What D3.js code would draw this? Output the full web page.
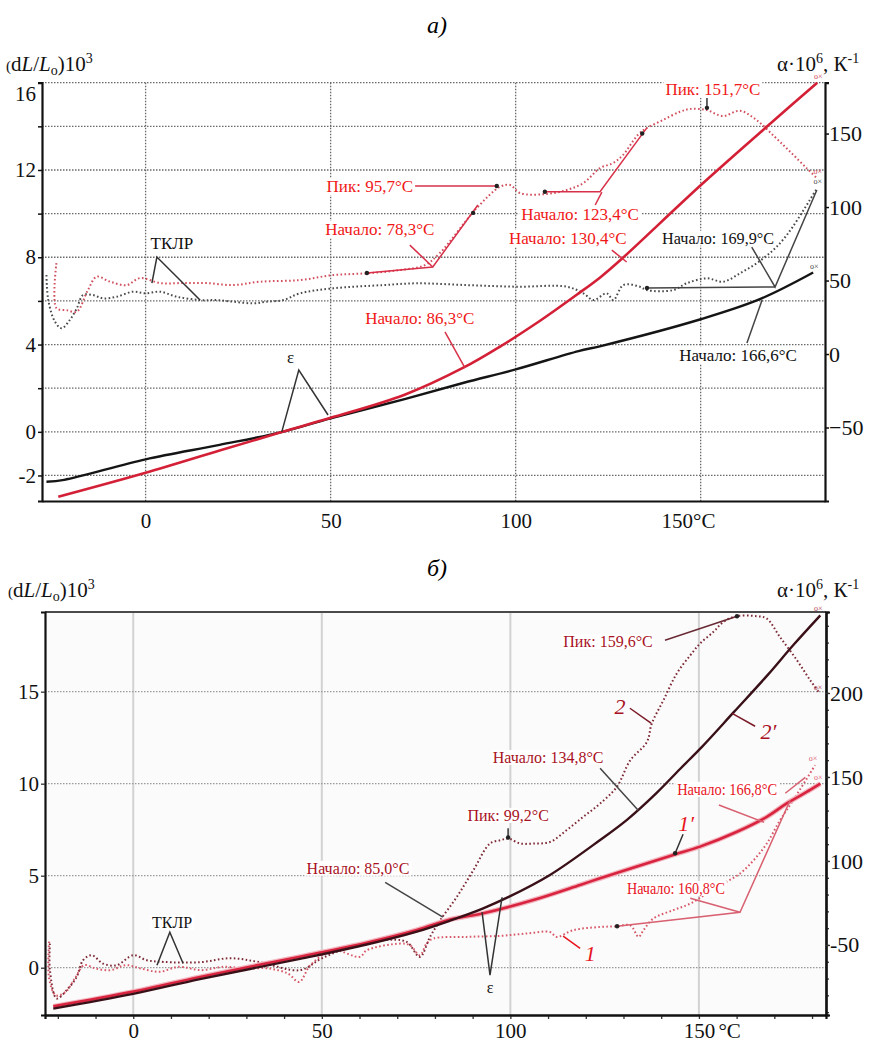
<!DOCTYPE html>
<html>
<head>
<meta charset="utf-8">
<script src="https://cdn.jsdelivr.net/npm/d3@7"></script>
<style>
  body { margin: 0; background: #fff; }
  svg { display: block; }
  text { font-family: "Liberation Serif", "Times New Roman", serif; }
</style>
</head>
<body>
<svg id="fig" width="871" height="1045"></svg>
<script>
// ---------- panel а) : temperature (°C) vs dL/L·10^3 (left) and α·10^6 (right)
const aStrainRed = [[-23.6,-2.98],[0,-1.88],[20,-0.86],[37,0],[50,0.64],[70,1.7],[86,2.95],[96,3.93],[106,5.02],[116.5,6.28],[123,7.1],[129,7.98],[150,11.3],[170,14.3],[181.5,16.0]];
const aStrainBlack = [[-26.8,-2.29],[-22,-2.2],[0,-1.26],[20,-0.6],[37,0],[50,0.62],[70,1.5],[86,2.25],[100,2.86],[117,3.7],[123,3.93],[150,5.16],[166,6.08],[180.4,7.3]];
const aAlphaRed = [[-24.1,61.9],[-24.1,31.3],[-21.4,29.9],[-18.6,28.8],[-15.6,43.5],[-13.2,52.6],[-9.6,49.2],[-5.1,46.9],[-1.5,51.7],[3.9,48.3],[10.1,48.3],[16.5,48.3],[23.6,46.9],[30.9,49.2],[41.7,50.3],[50.6,53.7],[59.7,54.9],[68.7,57.1],[75.5,60.5],[79.5,68.7],[89.5,99.3],[95.8,113.8],[98.5,115],[101.2,109.5],[107.9,108.8],[113.8,111.6],[118.3,116.3],[122.8,126.5],[126.3,129.9],[129,135.4],[133,149],[135.4,153.7],[139.8,159.2],[144.4,164.8],[147.1,166.7],[151.6,166],[156,161.9],[160.6,165.5],[165.1,159.2],[170,147.8],[174.2,137.6],[178.6,126.5],[181.4,119.7]];
const aAlphaBlack = [[-26.8,53.7],[-26.3,36.7],[-24.5,22],[-22.7,17.5],[-20.5,23.1],[-18.6,31.1],[-16.9,40.1],[-14.2,40.1],[-11.5,37.9],[-7.8,39],[-3.4,42.4],[0,41.3],[3.9,42.4],[8.4,39],[14.7,36.7],[19.2,36.7],[23.7,35.6],[29.1,34.5],[32.7,35.6],[37.2,36.7],[41.7,41.3],[50.7,44.7],[64.2,46.9],[73.2,48.1],[86.8,46.9],[100.3,45.8],[113.8,45.8],[118.3,41.3],[121,36.7],[124.6,41.3],[126.4,36.7],[129.1,46.9],[133.6,45.8],[135.4,43.5],[142.6,43.5],[146.2,48.1],[151.6,51.5],[156.1,49.2],[160.6,54.9],[165.1,61.7],[169.6,70.7],[172.2,77.6],[174.9,86.6],[179.5,104.8],[181.4,112.7]];
const aGridStrain = [-2,0,2,4,6,8,10,12,14,16];
const aStrainTicks = [-2,0,4,8,12,16];
const aAlphaTicks = [-50,0,50,100,150];
const aTempTicks = [0,50,100,150];
const aTempLabels = ["0","50","100","150°C"];

// ---------- panel б)
const bStrain2p = [[-21.2,-2.22],[0,-1.42],[17.7,-0.62],[44.2,0.48],[61.9,1.26],[75.2,1.96],[84,2.56],[92.8,3.23],[99.7,3.86],[110.5,5.04],[123.8,6.94],[131,8.05],[138.8,9.5],[145,10.8],[150.8,12.0],[159.3,13.9],[168.2,15.9],[175.1,17.55],[182.2,19.15]];
const bStrain1p = [[-21.2,-2.1],[0,-1.3],[17.7,-0.5],[44.2,0.6],[61.9,1.36],[75.2,2.05],[84,2.62],[92.8,2.96],[106.1,3.68],[118.5,4.5],[123.8,4.86],[143.2,6.13],[150.3,6.58],[160.1,7.39],[168,8.2],[173.3,8.93],[179.5,9.66],[182.2,10.0]];
const bAlpha2 = [[-22.1,50.8],[-22.1,35],[-20.3,18.1],[-17.7,23],[-15,31],[-13.3,40.9],[-11,43.9],[-8,38.9],[-4.4,37.9],[0,43.9],[3.6,40.9],[8,39.9],[17.7,39.7],[25.7,42.1],[33.6,39.7],[44.2,35],[50,42],[57.5,48.8],[66.3,52.8],[72.5,51.8],[76,42.9],[78.7,54.8],[81.4,64.7],[85.8,78.6],[90.2,94.5],[94.6,110.4],[97.3,112.3],[99.5,113.3],[102.6,110.4],[106.1,110.4],[110.5,111.3],[114.9,118.3],[119.3,126.2],[123.8,134.2],[128.2,144],[131.8,159.9],[136.2,170.8],[137.5,181.8],[140.6,195.7],[144.1,211.5],[147.7,222.4],[150.3,229.4],[153.8,236.3],[156.5,242.3],[160,245.7],[165.4,245.7],[168,244.3],[171.5,233.3],[176,219.5],[179.5,207.6],[182.1,199.6]];
const bAlpha1 = [[-22.3,52],[-22.3,30],[-20.5,20],[-18,22],[-15.5,30],[-13,38],[-10,36],[-6,35],[-2,38],[2,36],[7,34],[12,37],[18,35],[24,37],[30,36],[36,36],[41,33],[44,28],[47,38],[53,46.8],[60.1,42.9],[61.9,46.8],[70.7,50.8],[73.4,49.8],[76,43.9],[77.8,50.8],[79.6,53.8],[88.4,54.8],[97.3,55.4],[104.3,56.8],[110.5,57.7],[112.3,54.8],[116.7,58.8],[123.8,60.7],[128.2,61.1],[131.8,61.7],[134,54.8],[135.3,58.8],[137.9,65.7],[143.2,70.7],[147.7,74.6],[152.1,80.6],[156.5,86.5],[160.9,92.5],[164.5,100.4],[168,110.4],[171.5,124.2],[175,136.1],[180.8,157]];
const bGridStrain = [0,5,10,15];
const bStrainTicks = [0,5,10,15];
const bAlphaTicks = [50,100,150,200];
const bAlphaLabels = ["-50","100","150","200"];
const bTempTicks = [0,50,100,150];
const bTempLabels = ["0","50","100","150"];

// annotations: label centre and leader polylines in (°C, α) units of each panel
const aNotes = [
  {t:"ТКЛР", at:[7.1,75.5], c:"#111", lc:"#333", lines:[[[1.7,48.3],[3.05,66],[14.7,36.7]]]},
  {t:"ε", at:[39.2,-2], c:"#111", lc:"#333", lines:[[[36.8,-53],[41.4,-10.9],[49.3,-41.5]]]},
  {t:"Начало: 78,3°C", at:[63.3,85], c:"#f01818", lc:"#d83048", lines:[[[71.4,74.1],[77.6,59.2]],[[59.8,55.1],[77.6,59.2],[89.8,101.4]]], dots:[[59.8,55.1],[88.5,96]]},
  {t:"Пик: 95,7°C", at:[60.6,114.3], c:"#f01818", lc:"#d83048", lines:[[[70.1,114.3],[94.9,114.3]]], dots:[[94.9,114.3]]},
  {t:"Начало: 123,4°C", at:[117.4,95.2], c:"#f01818", lc:"#d83048", lines:[[[107.9,110.4],[122.8,110.4],[135.4,153.7]],[[121.5,101.4],[123.3,110.2]]], dots:[[107.9,110.4],[134.2,150]]},
  {t:"Пик: 151,7°C", at:[153.3,180.3], c:"#f01818", lc:"#333", lines:[[[151.7,174.8],[151.7,166.7]]], dots:[[151.7,167.5]]},
  {t:"Начало: 130,4°C", at:[114.1,78.9], c:"#f01818", lc:"#d83048", lines:[[[126,70.7],[130,62.6]]]},
  {t:"Начало: 86,3°C", at:[74.1,24.5], c:"#f01818", lc:"#d83048", lines:[[[80.9,15],[86.3,-9.5]]]},
  {t:"Начало: 169,9°C", at:[154.7,78.9], c:"#111", lc:"#444", fs:16, tl:112, lines:[[[163.8,72.8],[170.1,45.6],[181.4,111.6]],[[135.5,44.9],[170.1,45.6]]], dots:[[135.5,44.9]]},
  {t:"Начало: 166,6°C", at:[160.1,-0.7], c:"#111", lc:"#444", lines:[[[162.5,7.5],[166.6,36.7]]]}
];
const bNotes = [
  {t:"ТКЛР", at:[10.3,63.5], c:"#111", lc:"#333", fs:16, lines:[[[6.3,37.9],[9.7,57.6],[13.2,39.1]]]},
  {t:"ε", at:[94.6,24.8], c:"#111", lc:"#333", fs:16, lines:[[[92.5,69.5],[94.6,32],[97.8,78.4]]]},
  {t:"Начало: 85,0°C", at:[59.6,95.7], c:"#a8121e", lc:"#444", fs:16, lines:[[[66.8,87.3],[82.1,66.5]]]},
  {t:"Пик: 99,2°C", at:[99.4,127.2], c:"#a8121e", lc:"#333", fs:16, lines:[[[99.4,119.5],[99.4,113.5]]], dots:[[99.4,114]]},
  {t:"Начало: 134,8°C", at:[110,161.7], c:"#a8121e", lc:"#444", fs:16, lines:[[[123.8,155.2],[133.9,130.2]]]},
  {t:"Пик: 159,6°C", at:[125.9,230.8], c:"#a8121e", lc:"#6a2a34", fs:16, lines:[[[141,231.4],[160.1,245.7]]], dots:[[160.1,245.7]]},
  {t:"2", at:[129.1,192.1], c:"#a8121e", lc:"#7a1a26", fs:22, it:true, lines:[[[131.7,190.9],[137.3,182]]]},
  {t:"2′", at:[168.4,177.2], c:"#a8121e", lc:"#7a1a26", fs:22, it:true, lines:[[[164.9,180.2],[158.8,187.9]]]},
  {t:"Начало: 166,8°C", at:[157.5,142.7], c:"#e8141e", lc:"#d86070", fs:16, tl:100, lines:[[[155.3,133.3],[167.3,123]],[[172.9,140.3],[178.2,149.8]]]},
  {t:"1′", at:[146.6,122.4], c:"#e8141e", lc:"#333", fs:22, it:true, lines:[[[145.8,115.9],[143.7,104.6]]], dots:[[143.7,104.6]]},
  {t:"Начало: 160,8°C", at:[143.9,83.7], c:"#e8141e", lc:"#d86070", fs:16, tl:98, lines:[[[147.7,77.8],[160.9,69.5]],[[128.3,61.1],[160.9,69.5],[174.2,136.1]]], dots:[[128.3,61.1]]},
  {t:"1", at:[121.2,45.1], c:"#e8141e", lc:"#e8141e", fs:22, it:true, lines:[[[118.5,48],[114,55.2]]]}
];

const svg = d3.select("#fig");

function addNotes(g, notes, x, y, big) {
  const line = d3.line().x(d => x(d[0])).y(d => y(d[1]));
  notes.forEach(n => {
    n.lines.forEach(l => g.append("path").attr("d", line(l))
      .attr("fill", "none").attr("stroke", n.lc).attr("stroke-width", 1.5));
    (n.dots || []).forEach(p => g.append("circle").attr("cx", x(p[0])).attr("cy", y(p[1]))
      .attr("r", 2.2).attr("fill", "#222"));
  });
  notes.forEach(n => {
    const t = g.append("text").attr("x", x(n.at[0])).attr("y", y(n.at[1])).attr("dy", "0.35em")
      .attr("text-anchor", "middle").attr("fill", n.c)
      .style("font-size", (n.fs || big) + "px")
      .style("font-style", n.it ? "italic" : "normal")
      .text(n.t);
    if (n.tl) t.attr("textLength", n.tl).attr("lengthAdjust", "spacingAndGlyphs");
    if (!n.it && n.t.length > 2) {
      const b = t.node().getBBox();
      g.insert("rect", () => t.node()).attr("x", b.x - 2).attr("y", b.y + 1).attr("width", b.width + 4)
        .attr("height", b.height - 2).attr("fill", "#fff");
    }
  });
}

function yTitle(x, y) {
  const t = svg.append("text").attr("x", x).attr("y", y).style("font-size", "21px").attr("fill", "#111");
  t.append("tspan").style("font-size", "15px").text("(");
  t.append("tspan").text("d");
  t.append("tspan").style("font-style", "italic").text("L");
  t.append("tspan").text("/");
  t.append("tspan").style("font-style", "italic").text("L");
  t.append("tspan").style("font-size", "14px").attr("dy", 4).text("o");
  t.append("tspan").attr("dy", -4).text(")10");
  t.append("tspan").style("font-size", "14px").attr("dy", -8).text("3");
}
function rTitle(x, y) {
  const t = svg.append("text").attr("x", x).attr("y", y).style("font-size", "21px").attr("fill", "#111");
  t.append("tspan").text("α·10");
  t.append("tspan").style("font-size", "14px").attr("dy", -8).text("6");
  t.append("tspan").attr("dy", 8).text(", К");
  t.append("tspan").style("font-size", "14px").attr("dy", -8).text("-1");
}

// ================= panel а)
{
  const L = 42, R = 825, T = 82.7, B = 501;
  const x = d3.scaleLinear().domain([-28, 183.6]).range([L, R]);
  const yL = d3.scaleLinear().domain([-3.17, 16]).range([B, T]);
  const yR = d3.scaleLinear().domain([-100, 184.6]).range([B, T]);
  const g = svg.append("g");

  svg.append("text").attr("x", 437).attr("y", 33).attr("text-anchor", "middle")
    .style("font-size", "24px").style("font-style", "italic").text("а)");
  yTitle(6, 71);
  rTitle(777, 71);

  g.selectAll(".gh").data(aGridStrain).join("line")
    .attr("x1", L).attr("x2", R).attr("y1", d => yL(d)).attr("y2", d => yL(d))
    .attr("stroke", "#6a6a6a").attr("stroke-width", 1.3).attr("stroke-dasharray", "1.5,1.5");
  g.selectAll(".gv").data(aTempTicks).join("line")
    .attr("x1", d => x(d)).attr("x2", d => x(d)).attr("y1", T).attr("y2", B)
    .attr("stroke", "#6a6a6a").attr("stroke-width", 1.3).attr("stroke-dasharray", "1.5,1.5");

  // axes
  const axL = g.append("g").attr("transform", `translate(${L},0)`)
    .call(d3.axisLeft(yL).tickValues(aGridStrain).tickSize(4).tickFormat(d => aStrainTicks.includes(d) ? d : ""));
  const axR = g.append("g").attr("transform", `translate(${R},0)`)
    .call(d3.axisRight(yR).tickValues(aAlphaTicks).tickSize(4));
  const axB = g.append("g").attr("transform", `translate(0,${B})`)
    .call(d3.axisBottom(x).tickValues(aTempTicks).tickSize(0).tickFormat((d, i) => aTempLabels[i]));
  [axL, axR, axB].forEach(a => {
    a.select(".domain").attr("stroke", "#111").attr("stroke-width", 2.2);
    a.selectAll(".tick line").attr("stroke", "#111").attr("stroke-width", 1.5);
    a.selectAll("text").style("font-size", "21px").attr("fill", "#111")
      .style("font-family", '"Liberation Serif", serif');
  });
  axL.selectAll("text").attr("x", -6).filter(d => d === 16).attr("dy", "0.85em");
  axR.selectAll("text").attr("x", 4).style("font-size", "22px");
  axB.selectAll("text").attr("y", 12).filter(d => d === 150).attr("dx", "-0.6em");

  const lineL = d3.line().x(d => x(d[0])).y(d => yL(d[1])).curve(d3.curveCatmullRom.alpha(0.5));
  const lineR = d3.line().x(d => x(d[0])).y(d => yR(d[1])).curve(d3.curveCatmullRom.alpha(0.5));

  g.append("path").attr("d", lineR(aAlphaBlack)).attr("fill", "none")
    .attr("stroke", "#4a4a4a").attr("stroke-width", 2).attr("stroke-dasharray", "1.6,2.4");
  g.append("path").attr("d", lineR(aAlphaRed)).attr("fill", "none")
    .attr("stroke", "#d2505e").attr("stroke-width", 2).attr("stroke-dasharray", "1.6,2.4");
  g.append("path").attr("d", lineL(aStrainBlack)).attr("fill", "none")
    .attr("stroke", "#151515").attr("stroke-width", 2.4);
  g.append("path").attr("d", lineL(aStrainRed)).attr("fill", "none")
    .attr("stroke", "#d42036").attr("stroke-width", 2.6);

  // end markers
  [[aStrainRed, yL, "#d04050"], [aAlphaRed, yR, "#d04050"], [aAlphaBlack, yR, "#444"], [aStrainBlack, yL, "#444"]]
    .forEach(([s, sc, c]) => {
      const p = s[s.length - 1];
      g.append("text").attr("x", x(p[0]) + 1).attr("y", sc(p[1]) - 4).attr("text-anchor", "middle")
        .style("font-size", "8px").attr("fill", c).text("o×");
    });

  addNotes(g, aNotes, x, yR, 17);
}

// ================= panel б)
{
  const L = 45, R = 826, T = 612, B = 1015;
  const x = d3.scaleLinear().domain([-23.4, 183.7]).range([L, R]);
  const yL = d3.scaleLinear().domain([-2.57, 19.33]).range([B, T]);
  const yR = d3.scaleLinear().domain([8.3, 248.2]).range([B, T]);
  const g = svg.append("g");

  svg.append("text").attr("x", 437).attr("y", 576).attr("text-anchor", "middle")
    .style("font-size", "24px").style("font-style", "italic").text("б)");
  yTitle(8, 597);
  rTitle(777, 597);

  g.append("rect").attr("x", L).attr("y", T).attr("width", R - L).attr("height", B - T).attr("fill", "#fbfbfb");
  g.selectAll(".gv").data(bTempTicks).join("line")
    .attr("x1", d => x(d)).attr("x2", d => x(d)).attr("y1", T).attr("y2", B)
    .attr("stroke", "#d2d2d2").attr("stroke-width", 2);
  g.selectAll(".gh").data(bGridStrain).join("line")
    .attr("x1", L).attr("x2", R).attr("y1", d => yL(d)).attr("y2", d => yL(d))
    .attr("stroke", "#9a9a9a").attr("stroke-width", 1.3).attr("stroke-dasharray", "1.5,1.5");
  g.append("line").attr("x1", L).attr("x2", R).attr("y1", T).attr("y2", T)
    .attr("stroke", "#4a4a4a").attr("stroke-width", 2);

  const axL = g.append("g").attr("transform", `translate(${L},0)`)
    .call(d3.axisLeft(yL).tickValues(bStrainTicks).tickSize(4));
  const axRm = g.append("g").attr("transform", `translate(${R},0)`)
    .call(d3.axisRight(yR).tickValues(d3.range(10, 250, 10)).tickSize(3).tickFormat(""));
  const axR = g.append("g").attr("transform", `translate(${R},0)`)
    .call(d3.axisRight(yR).tickValues(bAlphaTicks).tickSize(4).tickFormat((d, i) => bAlphaLabels[i]));
  const axB = g.append("g").attr("transform", `translate(0,${B})`)
    .call(d3.axisBottom(x).tickValues(d3.range(-20, 181, 10)).tickSize(4).tickFormat(""));
  const axBl = g.append("g").attr("transform", `translate(0,${B})`)
    .call(d3.axisBottom(x).tickValues(bTempTicks).tickSize(0).tickFormat((d, i) => bTempLabels[i]));
  [axL, axRm, axR, axB, axBl].forEach(a => {
    a.select(".domain").attr("stroke", "#111").attr("stroke-width", 2.2);
    a.selectAll(".tick line").attr("stroke", "#333").attr("stroke-width", 1.3);
    a.selectAll("text").style("font-size", "21px").attr("fill", "#111")
      .style("font-family", '"Liberation Serif", serif');
  });
  axL.selectAll("text").attr("x", -6);
  axR.selectAll("text").attr("x", 4).style("font-size", "22px");
  axBl.selectAll("text").attr("y", 8);
  axBl.selectAll(".tick").filter(d => d === 150).append("text")
    .attr("x", 19).attr("y", 8).attr("dy", "0.71em").attr("fill", "#111")
    .style("font-size", "21px").style("font-family", '"Liberation Serif", serif')
    .attr("text-anchor", "start").text("°C");

  const lineL = d3.line().x(d => x(d[0])).y(d => yL(d[1])).curve(d3.curveCatmullRom.alpha(0.5));
  const lineR = d3.line().x(d => x(d[0])).y(d => yR(d[1])).curve(d3.curveCatmullRom.alpha(0.5));

  g.append("path").attr("d", lineR(bAlpha1)).attr("fill", "none")
    .attr("stroke", "#d85868").attr("stroke-width", 2).attr("stroke-dasharray", "1.6,2.4");
  g.append("path").attr("d", lineR(bAlpha2)).attr("fill", "none")
    .attr("stroke", "#7e2a36").attr("stroke-width", 2).attr("stroke-dasharray", "1.6,2.4");
  g.append("path").attr("d", lineL(bStrain1p)).attr("fill", "none")
    .attr("stroke", "#f3b6c0").attr("stroke-width", 5);
  g.append("path").attr("d", lineL(bStrain1p)).attr("fill", "none")
    .attr("stroke", "#d8243e").attr("stroke-width", 2.6);
  g.append("path").attr("d", lineL(bStrain2p)).attr("fill", "none")
    .attr("stroke", "#3a1018").attr("stroke-width", 2.4);

  [[bStrain2p, yL, "#b04050"], [bAlpha2, yR, "#b04050"], [bAlpha1, yR, "#e06070"], [bStrain1p, yL, "#e06070"]]
    .forEach(([s, sc, c]) => {
      const p = s[s.length - 1];
      g.append("text").attr("x", x(p[0]) - 2).attr("y", sc(p[1]) - 4).attr("text-anchor", "middle")
        .style("font-size", "8px").attr("fill", c).text("o×");
    });

  addNotes(g, bNotes, x, yR, 16);
}
</script>
</body>
</html>
